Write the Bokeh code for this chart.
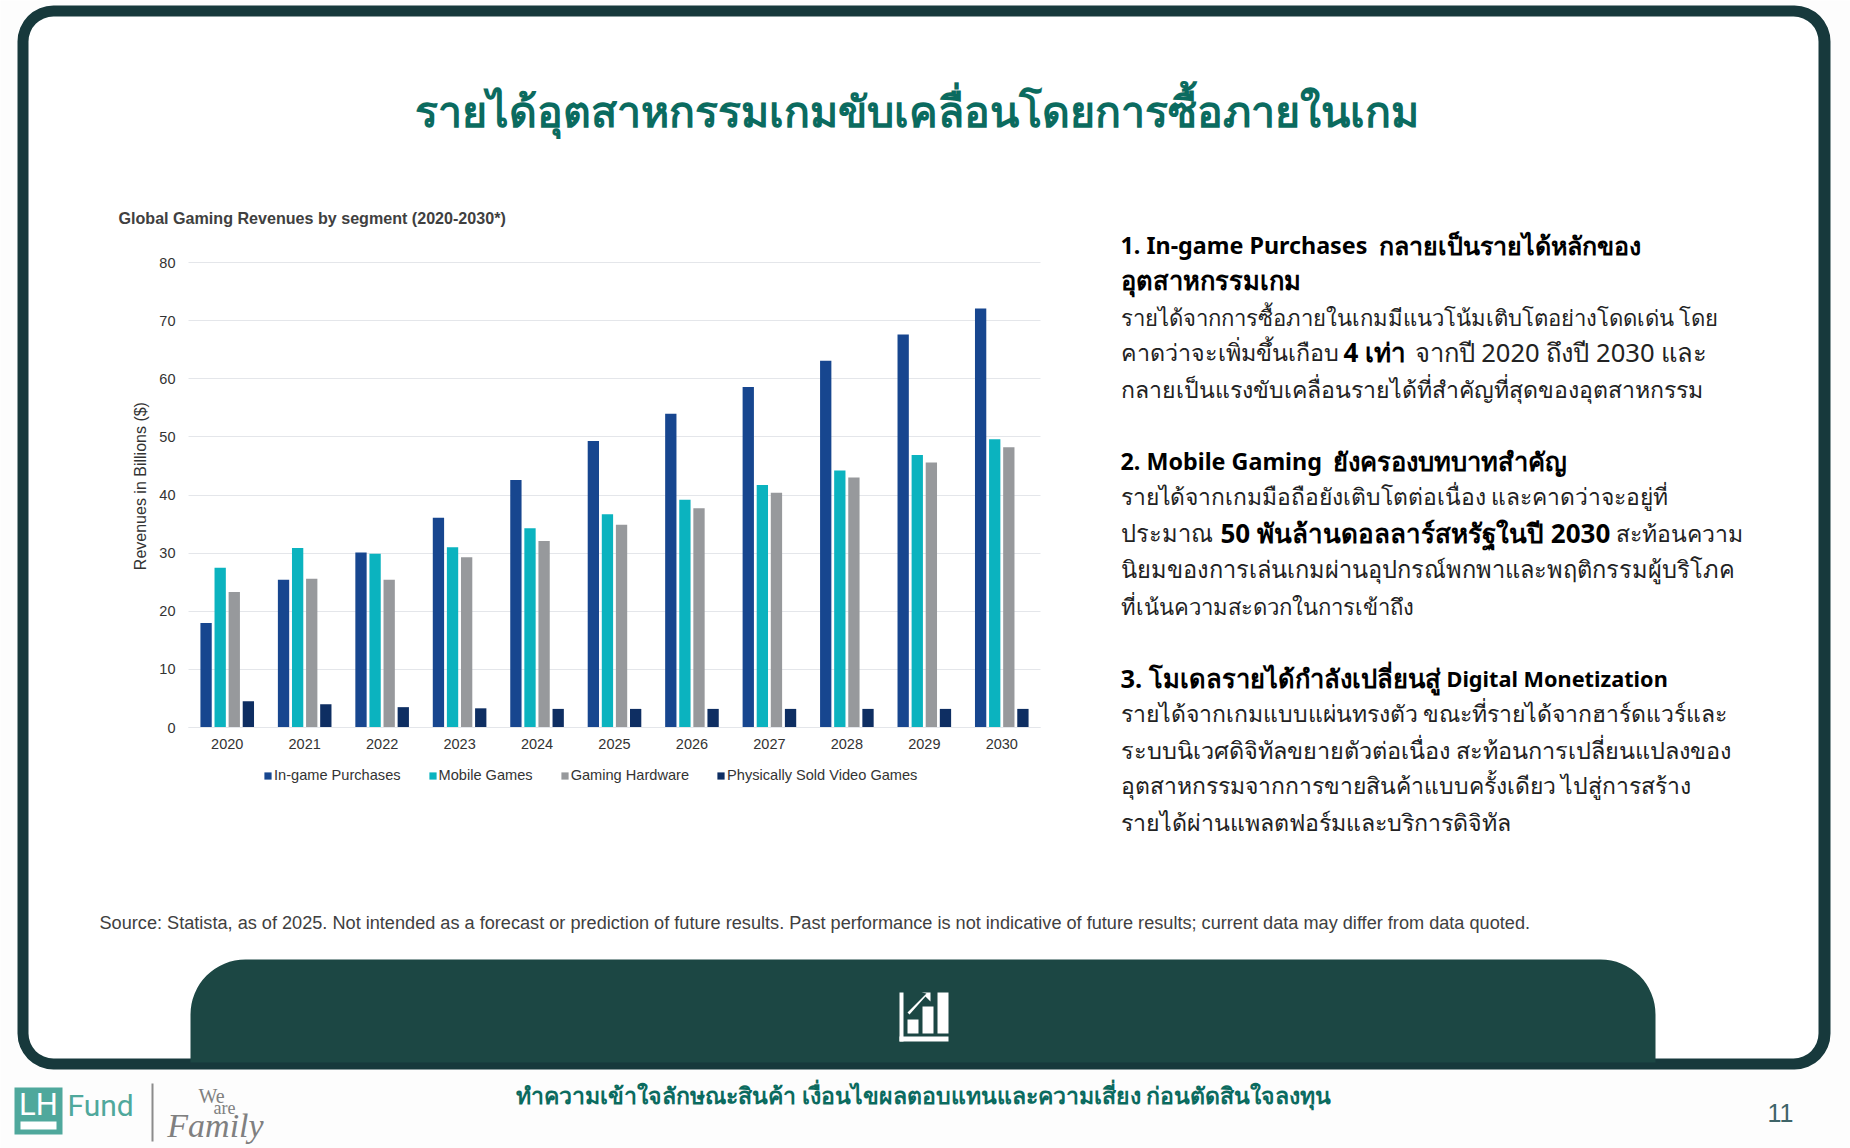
import math
from bokeh.plotting import figure
from bokeh.embed import file_html
from bokeh.resources import INLINE
from bokeh.models import (BoxAnnotation, Label, PolyAnnotation, Legend, LegendItem, ColumnDataSource,
                          Range1d, FixedTicker)
from bokeh.transform import dodge

years = [2020,2021,2022,2023,2024,2025,2026,2027,2028,2029,2030]
in_game = [18.0,25.4,30.1,36.1,42.6,49.3,54.0,58.6,63.1,67.6,72.1]
mobile = [27.5,30.9,29.9,31.0,34.3,36.7,39.2,41.7,44.2,46.9,49.6]
hardware = [23.3,25.6,25.4,29.3,32.1,34.9,37.7,40.4,43.0,45.6,48.2]
physical = [4.5,4.0,3.5,3.3,3.2,3.2,3.2,3.2,3.2,3.2,3.2]
y_ticks = [0,10,20,30,40,50,60,70,80]
series_names = ["In-game Purchases","Mobile Games","Gaming Hardware","Physically Sold Video Games"]

W, H = 1850, 1148
FRAME, BAND, GREEN = "#17393C", "#1C4744", "#0B6B5F"
THAI = "Noto Sans"
ARIAL = "Liberation Sans"

# The plot frame is the whole page; the ranges place the chart's axes inside it.
PX_L, PX_R, PX_T, PX_B = 188, 1040, 262, 727
xu = (PX_R - PX_L) / 11
yu = (PX_B - PX_T) / 80
x0 = 2019.5
x_range = Range1d(x0 - PX_L / xu, x0 + (W - PX_L) / xu)
y_range = Range1d(-(H - PX_B) / yu, PX_B / yu)

p = figure(width=W, height=H, x_range=x_range, y_range=y_range,
           toolbar_location=None, output_backend="svg", tools="",
           min_border=0, background_fill_color="#FDFDFD", border_fill_color="#FDFDFD", outline_line_color=None)

def box(l, t, r, b, color, radius=0, level="image"):
    p.add_layout(BoxAnnotation(left=l, right=r, top=H-t, bottom=H-b, left_units="screen", right_units="screen",
                       top_units="screen", bottom_units="screen", fill_color=color, fill_alpha=1,
                       line_color=None, border_radius=radius, level=level, editable=False))

box(17, 5, 1830, 1069, FRAME, 36)
box(28, 16, 1818, 1058, "#FFFFFF", 25)
box(190, 959, 1655, 1062, BAND, (55, 55, 0, 0))

def text(x, y, s, size, color="#1A1A1A", bold=False, font=THAI, align="left", italic=False, angle=0):
    style = "bold" if bold else ("italic" if italic else "normal")
    p.add_layout(Label(x=x, y=H-y, x_units="screen", y_units="screen", text=s, text_font=font,
                       text_font_size=f"{size}px", text_color=color, text_font_style=style,
                       text_align=align, text_baseline="middle", angle=angle))

text(916, 110, "รายได้อุตสาหกรรมเกมขับเคลื่อนโดยการซื้อภายในเกม", 42.9, GREEN, True, align="center")
text(118, 217, "Global Gaming Revenues by segment (2020-2030*)", 16.1, "#404040", True, ARIAL)
text(99, 922, "Source: Statista, as of 2025. Not intended as a forecast or prediction of future results. Past performance is not indicative of future results; current data may differ from data quoted.", 18.15, "#404040", False, ARIAL)
text(923, 1094, "ทำความเข้าใจลักษณะสินค้า เงื่อนไขผลตอบแทนและความเสี่ยง ก่อนตัดสินใจลงทุน", 23.07, GREEN, True, align="center")
text(1780, 1112, "11", 25, "#3E6468", False, ARIAL, align="center")
text(140.4, 485.6, "Revenues in Billions ($)", 16, "#333333", False, ARIAL, align="center", angle=math.pi/2)

LX = 1120
runs = [
 (LX, 244.4, "1. In-game Purchases", True, 23.3),
 (1378, 244.4, "กลายเป็นรายได้หลักของ", True, 25),
 (LX, 279.8, "อุตสาหกรรมเกม", True, 25.5),
 (LX, 316.4, "รายได้จากการซื้อภายในเกมมีแนวโน้มเติบโตอย่างโดดเด่น โดย", False, 22.1),
 (LX, 351.8, "คาดว่าจะเพิ่มขึ้นเกือบ", False, 23.3),
 (1343, 351.8, "4 เท่า", True, 26),
 (1414, 351.8, "จากปี 2020 ถึงปี 2030 และ", False, 25.6),
 (LX, 388.4, "กลายเป็นแรงขับเคลื่อนรายได้ที่สำคัญที่สุดของอุตสาหกรรม", False, 23.1),
 (LX, 460.4, "2. Mobile Gaming", True, 23.3),
 (1332, 460.4, "ยังครองบทบาทสำคัญ", True, 25.5),
 (LX, 495.8, "รายได้จากเกมมือถือยังเติบโตต่อเนื่อง และคาดว่าจะอยู่ที่", False, 22.85),
 (LX, 532.3, "ประมาณ", False, 23.7),
 (1220, 532.3, "50 พันล้านดอลลาร์สหรัฐในปี 2030", True, 26),
 (1615, 532.3, "สะท้อนความ", False, 23),
 (LX, 568.3, "นิยมของการเล่นเกมผ่านอุปกรณ์พกพาและพฤติกรรมผู้บริโภค", False, 23.6),
 (LX, 605.3, "ที่เน้นความสะดวกในการเข้าถึง", False, 22.1),
 (LX, 677.5, "3. โมเดลรายได้กำลังเปลี่ยนสู่", True, 25.5),
 (1446, 677.5, "Digital Monetization", True, 21.7),
 (LX, 712.9, "รายได้จากเกมแบบแผ่นทรงตัว ขณะที่รายได้จากฮาร์ดแวร์และ", False, 23),
 (LX, 749.5, "ระบบนิเวศดิจิทัลขยายตัวต่อเนื่อง สะท้อนการเปลี่ยนแปลงของ", False, 23.5),
 (LX, 784.9, "อุตสาหกรรมจากการขายสินค้าแบบครั้งเดียว ไปสู่การสร้าง", False, 22.95),
 (LX, 821.5, "รายได้ผ่านแพลตฟอร์มและบริการดิจิทัล", False, 23.2),
]
for x, y, s, b, sz in runs:
    text(x, y, s, sz, "#000000" if b else "#222222", b)

# bars
src = ColumnDataSource(dict(year=years, a=in_game, b=mobile, c=hardware, d=physical))
cols = ["#17468F", "#0BB3BF", "#97999C", "#0E2E62"]
items = []
for f, off, c, n in zip("abcd", [-0.273,-0.091,0.091,0.273], cols, series_names):
    r = p.vbar(x=dodge("year", off), top=f, width=0.146, source=src, fill_color=c, line_color=None)
    items.append(LegendItem(label=n, renderers=[r]))

legend = Legend(items=items, orientation="horizontal", location=(263, H-783), background_fill_alpha=0, border_line_color=None,
                glyph_width=9, glyph_height=9, label_standoff=2, spacing=27, margin=0, padding=0,
                label_text_font=ARIAL, label_text_font_size="14.6px", label_text_color="#333333")
p.add_layout(legend, "center")

# axes
p.ygrid.ticker = FixedTicker(ticks=y_ticks)
p.ygrid.grid_line_color = "#E4E6EA"
p.ygrid.bounds = (0, 80)
p.ygrid.cross_bounds = (2019.5, 2030.5)
p.xgrid.grid_line_color = None
p.yaxis.fixed_location = 2019.5
p.yaxis.bounds = (0, 80)
p.yaxis.ticker = FixedTicker(ticks=y_ticks)
p.yaxis.axis_line_color = None
p.yaxis.major_tick_line_color = None
p.yaxis.minor_tick_line_color = None
p.yaxis.major_label_standoff = 7
p.yaxis.major_label_text_font = ARIAL
p.yaxis.major_label_text_font_size = "14.5px"
p.yaxis.major_label_text_color = "#333333"
p.xaxis.fixed_location = 0
p.xaxis.bounds = (2019.5, 2030.5)
p.xaxis.ticker = FixedTicker(ticks=years)
p.xaxis.axis_line_color = "#E4E6EA"
p.xaxis.major_tick_line_color = None
p.xaxis.minor_tick_line_color = None
p.xaxis.major_label_standoff = 5
p.xaxis.major_label_text_font = ARIAL
p.xaxis.major_label_text_font_size = "14.5px"
p.xaxis.major_label_text_color = "#333333"

# icon
for l, t, r, b in [(899,992,903,1041),(899,1036,948,1041),(907,1019,918,1033),(922,1006,933,1033),(937,992,948,1033)]:
    box(l, t, r, b, "#FFFFFF", level="annotation")
p.add_layout(PolyAnnotation(xs=[907,926,921,930,930,925,909], ys=[H-v for v in (1012,993,992,992,1001,996,1014)],
                            xs_units="screen", ys_units="screen",
                            fill_color="#FFFFFF", fill_alpha=1, line_color=None, editable=False))

# logo
box(14, 1087, 62, 1134, "#4FA89C", level="annotation")
box(20, 1121, 56, 1129, "#FFFFFF", level="annotation")
text(38, 1104, "LH", 31, "#FFFFFF", False, "Roboto", align="center")
text(67, 1105, "Fund", 30, "#4FA89C", False, "Roboto")
box(151, 1083, 153, 1141, "#8C8C8C", level="annotation")
text(211, 1095, "We", 20, "#808080", False, "Liberation Serif", align="center")
text(224, 1107, "are", 18, "#808080", False, "Liberation Serif", align="center")
text(215, 1125, "Family", 34, "#808080", False, "Liberation Serif", align="center", italic=True)

open("out.html", "w").write(file_html(p, INLINE))
